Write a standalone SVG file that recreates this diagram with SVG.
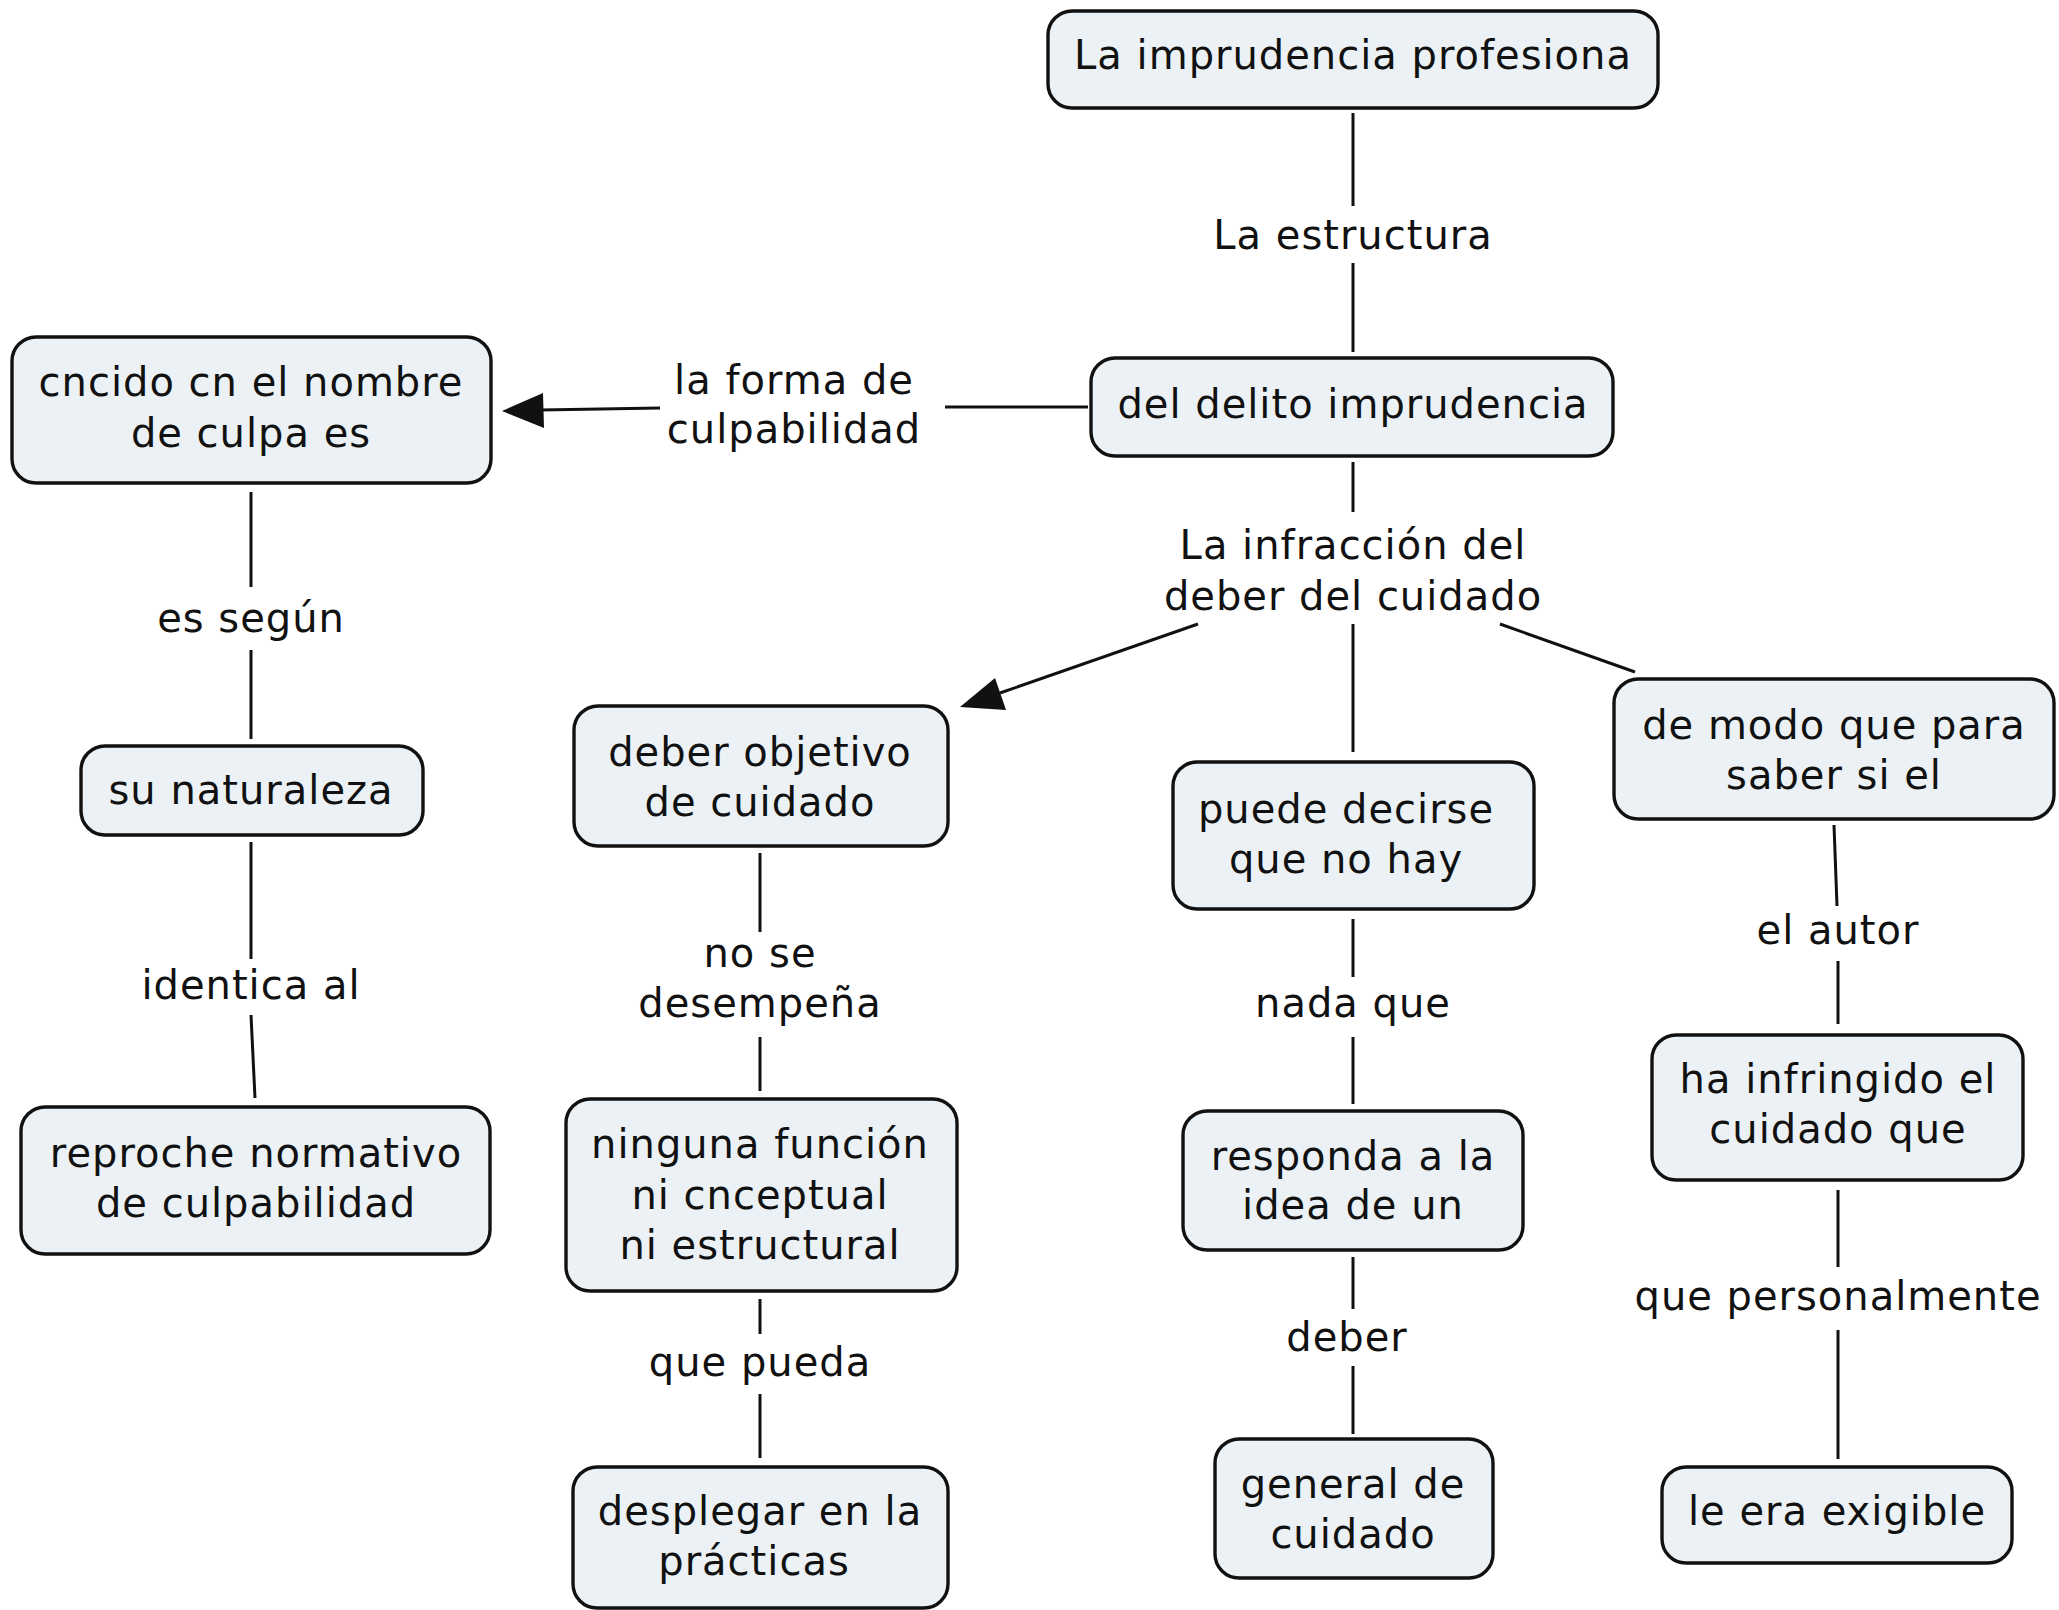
<svg xmlns="http://www.w3.org/2000/svg" width="2059" height="1610" viewBox="0 0 2059 1610">
<defs>
<style>
.n rect{fill:#ebf1f4;stroke:#111;stroke-width:3.4}
text{font-family:"DejaVu Sans","Liberation Sans",sans-serif;font-size:40px;letter-spacing:1px;fill:#111;text-anchor:middle;dominant-baseline:central}
.c line{stroke:#111;stroke-width:3}
</style>
</defs>
<rect width="2059" height="1610" fill="#fff"/>
<g class="c">
<line x1="1353" y1="113" x2="1353" y2="206"/>
<line x1="1353" y1="263" x2="1353" y2="352"/>
<line x1="1088" y1="407" x2="945" y2="407"/>
<line x1="660" y1="408" x2="540" y2="410"/>
<path d="M502,411 L543,393 L544,428 z" fill="#111"/>
<line x1="1353" y1="462" x2="1353" y2="512"/>
<line x1="1198" y1="624" x2="1000" y2="693"/>
<path d="M960,707 L995,678 L1006,710 z" fill="#111"/>
<line x1="1353" y1="624" x2="1353" y2="752"/>
<line x1="1500" y1="624" x2="1635" y2="672"/>
<line x1="251" y1="492" x2="251" y2="587"/>
<line x1="251" y1="650" x2="251" y2="739"/>
<line x1="251" y1="842" x2="251" y2="959"/>
<line x1="251" y1="1015" x2="255" y2="1098"/>
<line x1="760" y1="853" x2="760" y2="932"/>
<line x1="760" y1="1037" x2="760" y2="1091"/>
<line x1="760" y1="1299" x2="760" y2="1334"/>
<line x1="760" y1="1394" x2="760" y2="1458"/>
<line x1="1353" y1="919" x2="1353" y2="977"/>
<line x1="1353" y1="1037" x2="1353" y2="1104"/>
<line x1="1353" y1="1257" x2="1353" y2="1309"/>
<line x1="1353" y1="1366" x2="1353" y2="1434"/>
<line x1="1834" y1="825" x2="1837" y2="906"/>
<line x1="1838" y1="961" x2="1838" y2="1024"/>
<line x1="1838" y1="1190" x2="1838" y2="1267"/>
<line x1="1838" y1="1330" x2="1838" y2="1459"/>
</g>
<g id="labels">
<text x="1353" y="235">La estructura</text>
<text x="794" y="380">la forma de</text>
<text x="794" y="429">culpabilidad</text>
<text x="1353" y="545">La infracción del</text>
<text x="1353" y="596">deber del cuidado</text>
<text x="251" y="618">es según</text>
<text x="251" y="985">identica al</text>
<text x="760" y="953">no se</text>
<text x="760" y="1003">desempeña</text>
<text x="760" y="1362">que pueda</text>
<text x="1353" y="1003">nada que</text>
<text x="1347" y="1337">deber</text>
<text x="1838" y="930">el autor</text>
<text x="1838" y="1296">que personalmente</text>
</g>
<g id="nA" class="n"><rect x="1048" y="11" width="610" height="97" rx="24"/><text x="1353" y="55">La imprudencia profesiona</text></g>
<g id="nB" class="n"><rect x="1091" y="358" width="522" height="98" rx="24"/><text x="1353" y="404">del delito imprudencia</text></g>
<g id="nC" class="n"><rect x="12" y="337" width="479" height="146" rx="24"/><text x="251" y="382">cncido cn el nombre</text><text x="251" y="433">de culpa es</text></g>
<g id="nD" class="n"><rect x="574" y="706" width="374" height="140" rx="24"/><text x="760" y="752">deber objetivo</text><text x="760" y="802">de cuidado</text></g>
<g id="nE" class="n"><rect x="1173" y="762" width="361" height="147" rx="24"/><text x="1346" y="809">puede decirse</text><text x="1346" y="859">que no hay</text></g>
<g id="nF" class="n"><rect x="1614" y="679" width="440" height="140" rx="24"/><text x="1834" y="725">de modo que para</text><text x="1834" y="775">saber si el</text></g>
<g id="nG" class="n"><rect x="81" y="746" width="342" height="89" rx="24"/><text x="251" y="790">su naturaleza</text></g>
<g id="nH" class="n"><rect x="21" y="1107" width="469" height="147" rx="24"/><text x="256" y="1153">reproche normativo</text><text x="256" y="1203">de culpabilidad</text></g>
<g id="nI" class="n"><rect x="566" y="1099" width="391" height="192" rx="24"/><text x="760" y="1144">ninguna función</text><text x="760" y="1195">ni cnceptual</text><text x="760" y="1245">ni estructural</text></g>
<g id="nJ" class="n"><rect x="573" y="1467" width="375" height="141" rx="24"/><text x="760" y="1511">desplegar en la</text><text x="754" y="1561">prácticas</text></g>
<g id="nK" class="n"><rect x="1183" y="1111" width="340" height="139" rx="24"/><text x="1353" y="1156">responda a la</text><text x="1353" y="1205">idea de un</text></g>
<g id="nL" class="n"><rect x="1215" y="1439" width="278" height="139" rx="24"/><text x="1353" y="1484">general de</text><text x="1353" y="1534">cuidado</text></g>
<g id="nM" class="n"><rect x="1652" y="1035" width="371" height="145" rx="24"/><text x="1838" y="1079">ha infringido el</text><text x="1838" y="1129">cuidado que</text></g>
<g id="nN" class="n"><rect x="1662" y="1467" width="350" height="96" rx="24"/><text x="1837" y="1511">le era exigible</text></g>
</svg>
